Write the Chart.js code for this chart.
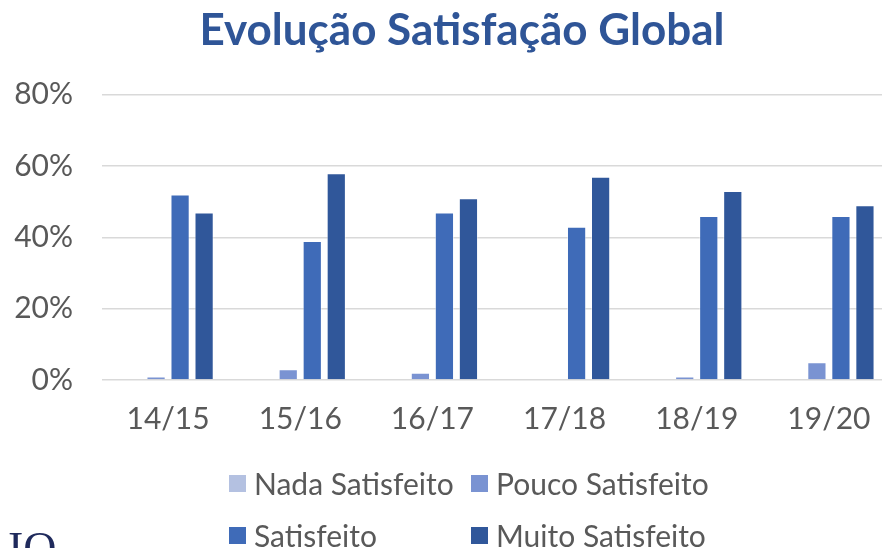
<!DOCTYPE html>
<html>
<head>
<meta charset="utf-8">
<script src="https://cdn.jsdelivr.net/npm/chart.js@4"></script>
<style>
    body { margin: 0; background: #fff; }
    #wrap { position: relative; width: 882px; height: 548px; overflow: hidden; }
    #chartBox { position: absolute; left: 0; top: 0; width: 924px; height: 548px; }
    .legend { position: absolute; font-family: Lato, sans-serif; font-size: 30px; color: #595959; white-space: nowrap; line-height: 1; }
    .legend span.box { position: absolute; width: 17px; height: 17px; }
    #logo { position: absolute; left: 8px; top: 522px; font-family: "Liberation Serif", serif; font-size: 46px; color: #1F2A5C; }
</style>
</head>
<body>
<div id="wrap">
    <div id="chartBox"><canvas id="satChart" width="924" height="548"></canvas></div>
    <div id="legendBox"></div>
    <div id="logo">IQ</div>
</div>
<script>
const years = ['14/15', '15/16', '16/17', '17/18', '18/19', '19/20'];
const seriesNames = ['Nada Satisfeito', 'Pouco Satisfeito', 'Satisfeito', 'Muito Satisfeito'];
const nadaSatisfeito = [0, 0, 0, 0, 0, 0];
const poucoSatisfeito = [1, 3, 2, 0, 1, 5];
const satisfeito = [52, 39, 47, 43, 46, 46];
const muitoSatisfeito = [47, 58, 51, 57, 53, 49];
const yTicks = [0, 20, 40, 60, 80];

const colors = ['#B4C1E1', '#7A93D2', '#3F6BB8', '#30579A'];
const values = [nadaSatisfeito, poucoSatisfeito, satisfeito, muitoSatisfeito];

// the original title sits a little right of the plot centre
const titleShift = {
    id: 'titleShift',
    afterLayout(chart) {
        if (chart.titleBlock) chart.titleBlock.left += 29;
    }
};

document.addEventListener('DOMContentLoaded', function() {
    const ctx = document.getElementById('satChart').getContext('2d');

    new Chart(ctx, {
        type: 'bar',
        data: {
            labels: years,
            datasets: seriesNames.map((name, i) => ({
                label: name,
                data: values[i],
                backgroundColor: colors[i],
                borderColor: 'rgba(255,255,255,0.45)',
                borderWidth: 1,
                categoryPercentage: 0.727,
                barPercentage: 0.8
            }))
        },
        options: {
            responsive: false,
            animation: false,
            // right padding falls outside the window (the original plot is cut at the edge)
            layout: { padding: { left: 0, right: 29, top: 0, bottom: 98 } },
            plugins: {
                legend: { display: false },
                tooltip: { enabled: false },
                title: {
                    display: true,
                    text: 'Evolução Satisfação Global',
                    color: '#2F5597',
                    font: { family: 'Lato', size: 44, weight: 'bold' },
                    padding: { top: 4, bottom: 38 }
                }
            },
            scales: {
                x: {
                    grid: { display: false },
                    border: { display: false },
                    ticks: {
                        color: '#595959',
                        font: { family: 'Lato', size: 30 },
                        padding: 13
                    }
                },
                y: {
                    min: yTicks[0],
                    max: yTicks[yTicks.length - 1],
                    afterFit: function(scale) { scale.width = 102; },
                    afterBuildTicks: function(scale) {
                        scale.ticks = yTicks.map(v => ({ value: v }));
                    },
                    grid: { color: '#D9D9D9', lineWidth: 1.5, drawTicks: false },
                    border: { display: false },
                    ticks: {
                        color: '#595959',
                        font: { family: 'Lato', size: 30 },
                        padding: 29,
                        callback: v => v + '%'
                    }
                }
            }
        },
        plugins: [titleShift]
    });

    // two-column legend, columns aligned like the original
    const legendBox = document.getElementById('legendBox');
    const cols = [229, 471];
    const rows = [483, 535];
    seriesNames.forEach((name, i) => {
        const item = document.createElement('div');
        item.className = 'legend';
        item.style.left = cols[i % 2] + 'px';
        item.style.top = (rows[Math.floor(i / 2)] - 15) + 'px';
        item.innerHTML = '<span class="box" style="left:0;top:7px;background:' + colors[i] + '"></span>' +
            '<span style="padding-left:25px">' + name + '</span>';
        legendBox.appendChild(item);
    });
});
</script>
</body>
</html>
